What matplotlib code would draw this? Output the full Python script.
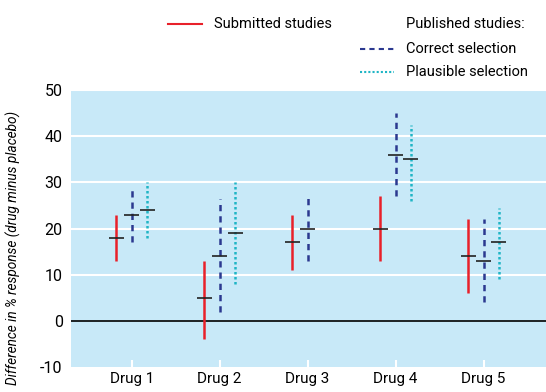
import matplotlib.pyplot as plt
from matplotlib.lines import Line2D
import numpy as np

plt.rcParams['font.family'] = ['Roboto', 'DejaVu Sans']
plt.rcParams['axes.unicode_minus'] = False

drugs = ['Drug 1', 'Drug 2', 'Drug 3', 'Drug 4', 'Drug 5']

# submitted studies: median, low, high
sub_mid = [18, 5, 17, 20, 14]
sub_lo = [13, -4, 11, 13, 6]
sub_hi = [23, 13, 23, 27, 22]

# published, correct selection
cor_mid = [23, 14, 20, 36, 13]
cor_lo = [17, 2, 13, 27, 4]
cor_hi = [29, 26.5, 27, 45, 22]

# published, plausible selection (none for drug 3)
pla_mid = [24, 19, None, 35, 17]
pla_lo = [18, 8, None, 26, 9]
pla_hi = [30, 30, None, 42.5, 24.5]

red = '#e8202a'
navy = '#2b3990'
cyan = '#1fb5c5'
bg = '#c8e9f8'

fig = plt.figure(figsize=(5.46, 3.92), dpi=100)
ax = fig.add_axes([0.130, 0.064, 0.870, 0.706])
ax.set_facecolor(bg)
for s in ax.spines.values():
    s.set_visible(False)

x = np.arange(1, len(drugs) + 1)
off = 0.175
half = 0.085

def draw(xs, mid, lo, hi, color, ls):
    for xi, m, l, h in zip(xs, mid, lo, hi):
        if m is None:
            continue
        ax.vlines(xi, l, h, color=color, lw=1.8, linestyles=ls, zorder=3)
        ax.hlines(m, xi - half, xi + half, color='#222222', lw=1.2, zorder=4)

draw(x - off, sub_mid, sub_lo, sub_hi, red, 'solid')
draw(x, cor_mid, cor_lo, cor_hi, navy, (0, (2.5, 2)))
draw(x + off, pla_mid, pla_lo, pla_hi, cyan, (0, (1, 1)))

ax.axhline(0, color='black', lw=1.2, zorder=2)
for g in [10, 20, 30, 40, 50]:
    ax.axhline(g, color='white', lw=1.5, zorder=1)

ax.set_xlim(0.31, 5.71)
ax.set_ylim(-10, 50)
ax.set_yticks(range(-10, 51, 10))
ax.set_xticks(x)
ax.set_xticklabels(drugs)
ax.tick_params(axis='x', direction='in', color='white', length=5, width=1.5,
               labelsize=11, pad=4)
ax.tick_params(axis='y', length=0, labelsize=11.5, pad=6)
ax.set_ylabel('Difference in % response (drug minus placebo)', fontsize=9.8,
              style='italic')
ax.yaxis.set_label_coords(-0.105, 0.43)

# legend drawn on the figure
W, H = 546, 392
def fx(px):
    return px / W
def fy(py):
    return 1 - py / H

fig.add_artist(Line2D([fx(168), fx(202)], [fy(24), fy(24)], color=red, lw=1.5))
fig.text(fx(214), fy(24), 'Submitted studies', fontsize=10.5, va='center')
fig.text(fx(406), fy(24), 'Published studies:', fontsize=10.5, va='center')
fig.add_artist(Line2D([fx(360), fx(394)], [fy(49), fy(49)], color=navy, lw=1.5,
                      linestyle=(0, (2.5, 2))))
fig.text(fx(406), fy(49), 'Correct selection', fontsize=10.5, va='center')
fig.add_artist(Line2D([fx(360), fx(394)], [fy(72), fy(72)], color=cyan, lw=1.5,
                      linestyle=(0, (1, 1))))
fig.text(fx(406), fy(72), 'Plausible selection', fontsize=10.5, va='center')

fig.savefig('out.png', dpi=100)
